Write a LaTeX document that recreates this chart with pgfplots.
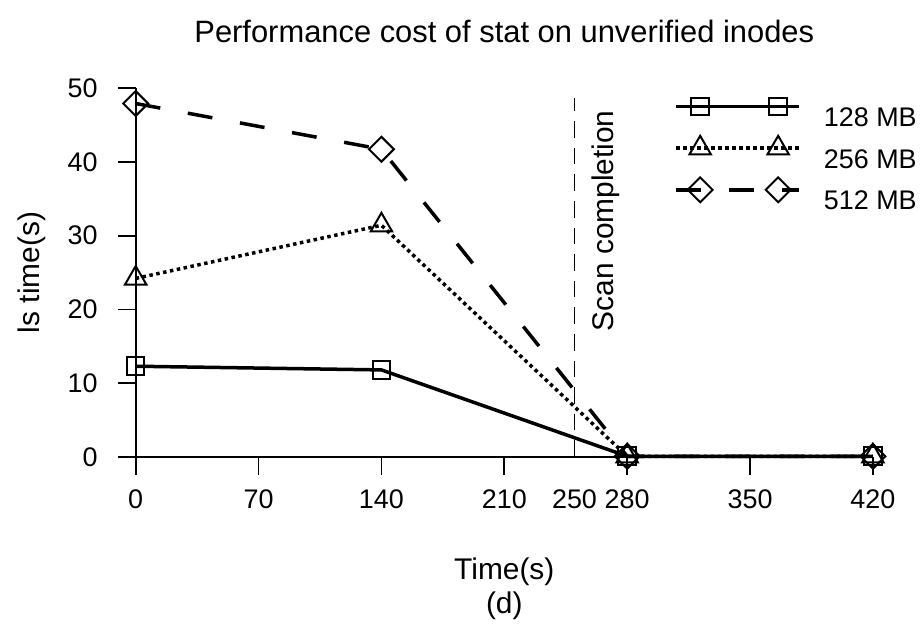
\documentclass[border=0pt]{standalone}
\usepackage{pgfplots}
\usepackage{pgfplotstable}
\pgfplotsset{compat=1.18}
\usepackage{fontspec}
\setmainfont{Liberation Sans}

% ls time (s) against elapsed time (s), one table per cache size
\pgfplotstableread{
t    ls
0    12.3
140  11.8
280  0.1
420  0.1
}\tabA
\pgfplotstableread{
t    ls
0    24.2
140  31.4
280  0.1
420  0.1
}\tabB
\pgfplotstableread{
t    ls
0    47.9
140  41.7
280  0.1
420  0.1
}\tabC

\begin{document}
\begin{tikzpicture}
\useasboundingbox (-67.85bp,-85.5bp) rectangle (392.65bp,228.5bp);
\begin{axis}[
  scale only axis,
  width=368.6bp, height=184.5bp,
  xmin=0, xmax=420, ymin=0, ymax=50,
  axis lines*=left,
  clip=false,
  xtick={0,70,140,210,280,350,420},
  extra x ticks={250},
  extra x tick style={major tick style={draw=none}},
  ytick={0,10,20,30,40,50},
  tick align=outside,
  major tick length=8.85bp,
  every tick/.style={black, line width=0.9bp},
  axis line style={black, line width=0.9bp},
  tick label style={font=\fontsize{13.5}{16}\selectfont},
  /pgf/number format/assume math mode=true,
  xticklabel style={anchor=north, inner sep=0pt, yshift=-7.5bp},
  yticklabel style={anchor=east, inner sep=0pt, xshift=-10bp},
  every axis title shift=0pt,
  title={Performance cost of stat on unverified inodes},
  title style={at={(axis cs:210,57.6)}, anchor=center, font=\fontsize{15.5}{18}\selectfont},
  xlabel={Time(s)},
  xlabel style={at={(axis cs:210,-15.6)}, anchor=center, font=\fontsize{15}{18}\selectfont},
  ylabel={ls time(s)},
  ylabel style={at={(axis cs:-59,25)}, anchor=center, font=\fontsize{15}{18}\selectfont},
  legend image code/.code={
    \draw[#1,mark=none] (0bp,5.5bp) -- (61.5bp,5.5bp);
    \draw[#1,only marks] plot coordinates {(12bp,5.5bp) (51bp,5.5bp)};
  },
  legend cell align=left,
  legend style={at={(axis cs:306.7,48.73)}, anchor=north west, draw=none, fill=none,
    inner sep=0pt, row sep=1.6bp, column sep=11.5bp,
    font=\fontsize{13.5}{16}\selectfont,
    nodes={inner sep=0pt, text height=12bp, text depth=3bp}},
]
\addplot[black, line width=1.75bp, mark=square, mark size=4.4bp,
  mark options={solid, line width=1bp}] table[x=t, y=ls] {\tabA};
\addlegendentry{128 MB}
\addplot[black, line width=1.75bp, dash pattern=on 1.75bp off 1.75bp, mark=triangle, mark size=6.2bp,
  mark options={solid, line width=1bp}] table[x=t, y=ls] {\tabB};
\addlegendentry{256 MB}
\addplot[black, line width=1.75bp, dash pattern=on 12.5bp off 14bp, mark=square, mark size=4.4bp,
  mark options={solid, line width=1bp, rotate=45}] table[x=t, y=ls] {\tabC};
\addlegendentry{512 MB}
% end of the verification scan
\addplot[black, line width=0.6bp, dash pattern=on 8.3bp off 5bp, forget plot]
  coordinates {(250,0) (250,48.7)};
\node[rotate=90, anchor=center, font=\fontsize{15}{18}\selectfont]
  at (axis cs:268,32.0) {Scan completion};
\node[anchor=center, font=\fontsize{15}{18}\selectfont]
  at (axis cs:210,-20.2) {(d)};
\end{axis}
\end{tikzpicture}
\end{document}
